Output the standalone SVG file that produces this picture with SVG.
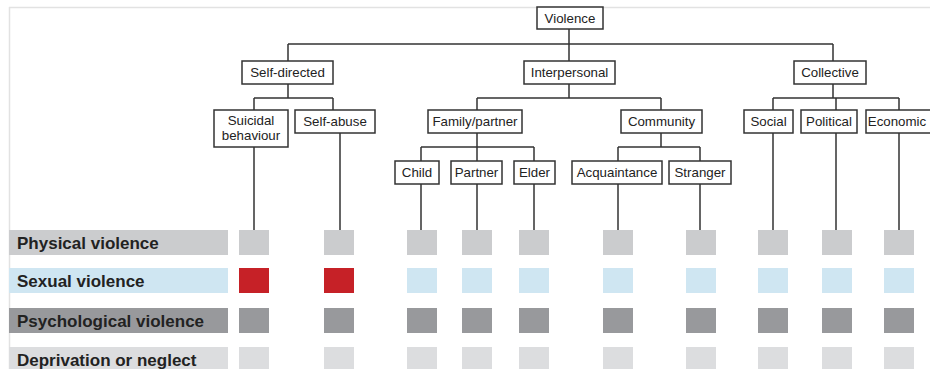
<svg xmlns="http://www.w3.org/2000/svg" width="930" height="369" viewBox="0 0 930 369">
<style>
.n rect{fill:#fff;stroke:#333;stroke-width:1.5}
.n text{font-family:"Liberation Sans",Arial,sans-serif;font-size:13.3px;fill:#222;text-anchor:middle}
.c{fill:none;stroke:#333;stroke-width:1.5}
.lbl{font-family:"Liberation Sans",Arial,sans-serif;font-size:17px;font-weight:bold;fill:#222}
.p{fill:#cbccce}.s{fill:#cfe6f2}.r{fill:#c62127}.y{fill:#98999c}.d{fill:#dcdddf}
</style>
<rect x="0" y="0" width="930" height="369" fill="#fff"/>
<path d="M9 7.5H930M9.5 7V369" stroke="#e2e2e2" stroke-width="1.5" fill="none"/>
<g id="connectors" class="c">
<path d="M569 29V61M288 44H833M288 44V61M833 44V61"/>
<path d="M288 84V98M254 98H333M254 98V110M333 98V110"/>
<path d="M569 84V98M477 98H661M477 98V110M661 98V110"/>
<path d="M833 84V98M773 98H899M773 98V110M836 98V110M899 98V110"/>
<path d="M477 133V147M421 147H534M421 147V161M477 147V161M534 147V161"/>
<path d="M661 133V147M618 147H700M618 147V161M700 147V161"/>
<path d="M254 147V230M340 133V230M421 184V230M477 184V230M534 184V230M618 184V230M700 184V230M773 133V230M836 133V230M899 133V230"/>
</g>
<g id="violence" class="n"><rect x="537" y="7" width="66" height="22"/><text x="570" y="23">Violence</text></g>
<g id="self-directed" class="n"><rect x="242" y="61" width="91" height="23"/><text x="287.5" y="77">Self-directed</text></g>
<g id="interpersonal" class="n"><rect x="524" y="61" width="91" height="23"/><text x="569.5" y="77">Interpersonal</text></g>
<g id="collective" class="n"><rect x="794" y="61" width="72" height="23"/><text x="830" y="77">Collective</text></g>
<g id="suicidal" class="n"><rect x="214" y="110" width="74" height="37"/><text x="251" y="125">Suicidal</text><text x="251" y="140">behaviour</text></g>
<g id="self-abuse" class="n"><rect x="295" y="110" width="80" height="23"/><text x="335" y="126">Self-abuse</text></g>
<g id="family" class="n"><rect x="428" y="110" width="94" height="23"/><text x="475" y="126">Family/partner</text></g>
<g id="community" class="n"><rect x="621" y="110" width="81" height="23"/><text x="661.5" y="126">Community</text></g>
<g id="social" class="n"><rect x="744" y="110" width="49" height="23"/><text x="768.5" y="126">Social</text></g>
<g id="political" class="n"><rect x="801" y="110" width="56" height="23"/><text x="829" y="126">Political</text></g>
<g id="economic" class="n"><rect x="866" y="110" width="70" height="23"/><text x="897" y="126">Economic</text></g>
<g id="child" class="n"><rect x="395" y="161" width="44" height="23"/><text x="417" y="177">Child</text></g>
<g id="partner" class="n"><rect x="451" y="161" width="51" height="23"/><text x="476.5" y="177">Partner</text></g>
<g id="elder" class="n"><rect x="514" y="161" width="41" height="23"/><text x="534.5" y="177">Elder</text></g>
<g id="acquaintance" class="n"><rect x="572" y="161" width="90" height="23"/><text x="617" y="177">Acquaintance</text></g>
<g id="stranger" class="n"><rect x="669" y="161" width="62" height="23"/><text x="700" y="177">Stranger</text></g>
<g id="legend">
<rect class="p" x="9" y="230" width="219" height="25"/><text class="lbl" x="17" y="248.5">Physical violence</text>
<rect class="s" x="9" y="268" width="219" height="25"/><text class="lbl" x="17" y="286.5">Sexual violence</text>
<rect class="y" x="9" y="308" width="219" height="25"/><text class="lbl" x="17" y="326.5">Psychological violence</text>
<rect class="d" x="9" y="347" width="219" height="25"/><text class="lbl" x="17" y="365.5">Deprivation or neglect</text>
</g>
<g id="cells">
<rect class="p" x="239" y="230" width="30" height="25"/><rect class="r" x="239" y="268" width="30" height="25"/><rect class="y" x="239" y="308" width="30" height="25"/><rect class="d" x="239" y="347" width="30" height="25"/>
<rect class="p" x="324" y="230" width="30" height="25"/><rect class="r" x="324" y="268" width="30" height="25"/><rect class="y" x="324" y="308" width="30" height="25"/><rect class="d" x="324" y="347" width="30" height="25"/>
<rect class="p" x="407" y="230" width="30" height="25"/><rect class="s" x="407" y="268" width="30" height="25"/><rect class="y" x="407" y="308" width="30" height="25"/><rect class="d" x="407" y="347" width="30" height="25"/>
<rect class="p" x="462" y="230" width="30" height="25"/><rect class="s" x="462" y="268" width="30" height="25"/><rect class="y" x="462" y="308" width="30" height="25"/><rect class="d" x="462" y="347" width="30" height="25"/>
<rect class="p" x="519" y="230" width="30" height="25"/><rect class="s" x="519" y="268" width="30" height="25"/><rect class="y" x="519" y="308" width="30" height="25"/><rect class="d" x="519" y="347" width="30" height="25"/>
<rect class="p" x="603" y="230" width="30" height="25"/><rect class="s" x="603" y="268" width="30" height="25"/><rect class="y" x="603" y="308" width="30" height="25"/><rect class="d" x="603" y="347" width="30" height="25"/>
<rect class="p" x="686" y="230" width="30" height="25"/><rect class="s" x="686" y="268" width="30" height="25"/><rect class="y" x="686" y="308" width="30" height="25"/><rect class="d" x="686" y="347" width="30" height="25"/>
<rect class="p" x="758" y="230" width="30" height="25"/><rect class="s" x="758" y="268" width="30" height="25"/><rect class="y" x="758" y="308" width="30" height="25"/><rect class="d" x="758" y="347" width="30" height="25"/>
<rect class="p" x="822" y="230" width="30" height="25"/><rect class="s" x="822" y="268" width="30" height="25"/><rect class="y" x="822" y="308" width="30" height="25"/><rect class="d" x="822" y="347" width="30" height="25"/>
<rect class="p" x="884" y="230" width="30" height="25"/><rect class="s" x="884" y="268" width="30" height="25"/><rect class="y" x="884" y="308" width="30" height="25"/><rect class="d" x="884" y="347" width="30" height="25"/>
</g>
</svg>
